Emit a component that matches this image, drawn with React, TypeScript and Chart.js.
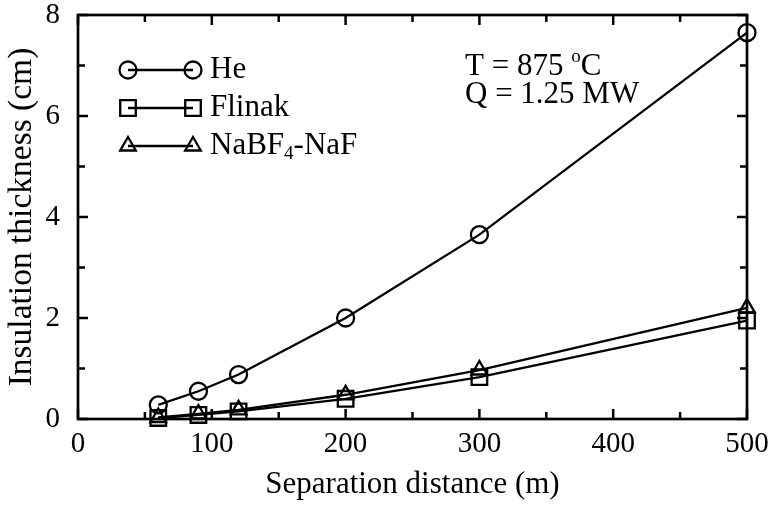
import React, { useEffect, useRef } from "react";
import { Chart, registerables } from "chart.js";

Chart.register(...registerables);

const xValues = [60, 90, 120, 200, 300, 500];
const heValues = [0.28, 0.55, 0.88, 2.0, 3.65, 7.65];
const flinakValues = [0.02, 0.08, 0.15, 0.4, 0.83, 1.95];
const nabf4Values = [0.03, 0.1, 0.18, 0.48, 0.97, 2.2];
const xTicks = [0, 100, 200, 300, 400, 500];
const yTicks = [0, 2, 4, 6, 8];
const xMinorTicks = [50, 150, 250, 350, 450];
const yMinorTicks = [1, 3, 5, 7];
const xTitle = "Separation distance (m)";
const yTitle = "Insulation thickness (cm)";

const FONT = "'Liberation Serif', 'Times New Roman', serif";
const pointStyles = ["circle", "rect", "triangle"];
const pointRadii = [8.5, 11, 9];

function drawMarker(ctx: CanvasRenderingContext2D, style: string, r: number, x: number, y: number) {
  ctx.beginPath();
  if (style === "circle") {
    ctx.arc(x, y, r, 0, Math.PI * 2);
  } else if (style === "rect") {
    const s = r * Math.SQRT1_2;
    ctx.rect(x - s, y - s, 2 * s, 2 * s);
  } else {
    let a = 0;
    ctx.moveTo(x + Math.sin(a) * r, y - Math.cos(a) * r);
    a += (2 * Math.PI) / 3;
    ctx.lineTo(x + Math.sin(a) * r, y - Math.cos(a) * r);
    a += (2 * Math.PI) / 3;
    ctx.lineTo(x + Math.sin(a) * r, y - Math.cos(a) * r);
    ctx.closePath();
  }
  ctx.stroke();
}

const framePlugin = {
  id: "frameTicks",
  afterDatasetsDraw(chart: any) {
    const { ctx, chartArea } = chart;
    const { left, right, top, bottom } = chartArea;
    const xs = chart.scales.x;
    const ys = chart.scales.y;
    ctx.save();
    ctx.strokeStyle = "#000";
    ctx.lineWidth = 2.7;
    ctx.strokeRect(left, top, right - left, bottom - top);
    ctx.lineWidth = 2.5;
    const major = 10;
    const minor = 7;
    ctx.beginPath();
    const tx = (v: number, len: number) => {
      const p = xs.getPixelForValue(v);
      ctx.moveTo(p, bottom);
      ctx.lineTo(p, bottom - len);
      ctx.moveTo(p, top);
      ctx.lineTo(p, top + len);
    };
    const ty = (v: number, len: number) => {
      const p = ys.getPixelForValue(v);
      ctx.moveTo(left, p);
      ctx.lineTo(left + len, p);
      ctx.moveTo(right, p);
      ctx.lineTo(right - len, p);
    };
    xTicks.forEach((v) => tx(v, major));
    xMinorTicks.forEach((v) => tx(v, minor));
    yTicks.forEach((v) => ty(v, major));
    yMinorTicks.forEach((v) => ty(v, minor));
    ctx.stroke();

    // legend
    const rows = [55, 93, 131];
    ctx.lineWidth = 2.3;
    chart.data.datasets.forEach((ds: any, i: number) => {
      const y = top + rows[i];
      const x1 = left + 50;
      const x2 = left + 115;
      ctx.beginPath();
      ctx.moveTo(x1, y);
      ctx.lineTo(x2, y);
      ctx.stroke();
      drawMarker(ctx, pointStyles[i], pointRadii[i], x1, y);
      drawMarker(ctx, pointStyles[i], pointRadii[i], x2, y);
      ctx.fillStyle = "#000";
      ctx.textBaseline = "middle";
      ctx.textAlign = "left";
      ctx.font = `31px ${FONT}`;
      const tx0 = left + 132;
      if (i === 2) {
        let xx = tx0;
        ctx.fillText("NaBF", xx, y);
        xx += ctx.measureText("NaBF").width;
        ctx.font = `19px ${FONT}`;
        ctx.fillText("4", xx, y + 8);
        xx += ctx.measureText("4").width;
        ctx.font = `31px ${FONT}`;
        ctx.fillText("-NaF", xx, y);
      } else {
        ctx.fillText(ds.label, tx0, y);
      }
    });

    // annotation
    ctx.textBaseline = "alphabetic";
    ctx.font = `31px ${FONT}`;
    const ax = left + 387;
    let xx = ax;
    ctx.fillText("T = 875 ", xx, top + 60);
    xx += ctx.measureText("T = 875 ").width;
    ctx.font = `19px ${FONT}`;
    ctx.fillText("o", xx, top + 47);
    xx += ctx.measureText("o").width;
    ctx.font = `31px ${FONT}`;
    ctx.fillText("C", xx, top + 60);
    ctx.fillText("Q = 1.25 MW", ax, top + 88);
    ctx.restore();
  },
};

export default function App() {
  const ref = useRef<HTMLCanvasElement | null>(null);
  useEffect(() => {
    document.body.style.margin = "0";
    const canvas = ref.current;
    if (!canvas) return;
    const mk = (label: string, vals: number[], i: number) => ({
      label,
      data: xValues.map((x, k) => ({ x, y: vals[k] })),
      borderColor: "#000",
      borderWidth: 2.3,
      pointStyle: pointStyles[i],
      pointRadius: pointRadii[i],
      pointBorderWidth: 2.3,
      pointBorderColor: "#000",
      pointBackgroundColor: "rgba(0,0,0,0)",
      fill: false,
      tension: 0,
      clip: false,
      showLine: true,
    });
    const chart = new Chart(canvas, {
      type: "scatter",
      data: {
        datasets: [
          mk("He", heValues, 0),
          mk("Flinak", flinakValues, 1),
          mk("NaBF4-NaF", nabf4Values, 2),
        ],
      },
      options: {
        responsive: false,
        animation: false,
        layout: { padding: { top: 15, right: 24, left: 0, bottom: 0 } },
        plugins: { legend: { display: false }, tooltip: { enabled: false } },
        scales: {
          x: {
            type: "linear",
            min: 0,
            max: 500,
            afterBuildTicks: (s: any) => {
              s.ticks = xTicks.map((v) => ({ value: v }));
            },
            afterFit: (s: any) => {
              s.height = 87;
              s.paddingLeft = 0;
              s.paddingRight = 0;
            },
            grid: { display: false, drawTicks: false },
            border: { display: false },
            ticks: {
              padding: 8,
              color: "#000",
              maxRotation: 0,
              autoSkip: false,
              font: { family: FONT, size: 29 },
            },
            title: {
              display: true,
              text: xTitle,
              color: "#000",
              font: { family: FONT, size: 31 },
              padding: { top: 0, bottom: 3 },
            },
          },
          y: {
            type: "linear",
            min: 0,
            max: 8,
            afterBuildTicks: (s: any) => {
              s.ticks = yTicks.map((v) => ({ value: v }));
            },
            afterFit: (s: any) => {
              s.width = 78;
              s.paddingTop = 0;
              s.paddingBottom = 0;
            },
            grid: { display: false, drawTicks: false },
            border: { display: false },
            ticks: {
              padding: 18,
              color: "#000",
              autoSkip: false,
              font: { family: FONT, size: 29 },
            },
            title: {
              display: true,
              text: yTitle,
              color: "#000",
              font: { family: FONT, size: 33.5 },
              padding: { top: 2, bottom: 0 },
            },
          },
        },
      },
      plugins: [framePlugin],
    } as any);
    return () => chart.destroy();
  }, []);
  return <canvas ref={ref} width={771} height={506} style={{ display: "block" }} />;
}
